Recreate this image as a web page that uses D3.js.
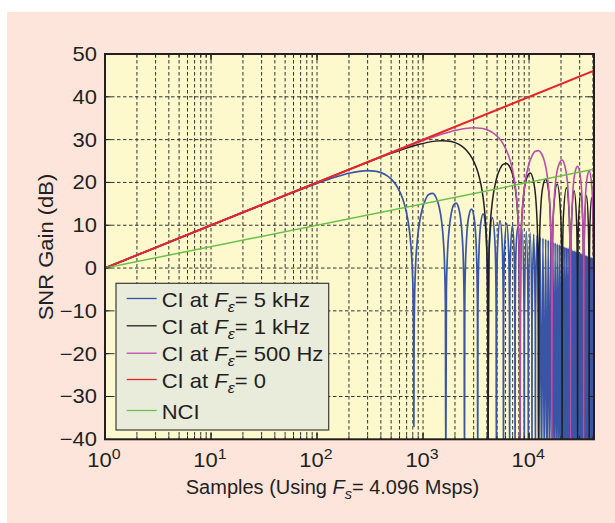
<!DOCTYPE html>
<html><head><meta charset="utf-8">
<script src="https://cdn.jsdelivr.net/npm/d3@7"></script>
<style>html,body{margin:0;padding:0;background:#fff;} svg{display:block;}</style>
</head><body>
<svg id="chart" width="615" height="523"></svg>
<script>
// ---------------- DATA ----------------
const xTickExponents = [0, 1, 2, 3, 4];
const yTickValues = [-40, -30, -20, -10, 0, 10, 20, 30, 40, 50];
const sampleDomain = [1, 40960];
const gainDomain = [-40, 50];
const xAxisLabel = ["Samples (Using ", "F", "s", "= 4.096 Msps)"];
const yAxisLabel = "SNR Gain (dB)";
const legendLabels = [
  ["CI at ", "F", "ε", "= 5 kHz"],
  ["CI at ", "F", "ε", "= 1 kHz"],
  ["CI at ", "F", "ε", "= 500 Hz"],
  ["CI at ", "F", "ε", "= 0"],
  ["NCI"]
];

// [samples, SNR gain dB]
const ciZero = [[1, 0], [40960, 46.1]];
const nci = [[1, 0], [40960, 23.1]];

const ci500Hz = [[1,0],[10,10],[100,20],[500,26.94],[1000,29.79],[1500,31.27],[2000,32.14],[2500,32.60],[3000,32.76],[3500,32.66],[4000,32.30],[4600,31.54],[5200,30.36],[5800,28.68],[6400,26.31],[6800,24.15],[7200,21.14],[7500,17.96],[7700,14.92],[7900,10.31],[8000,6.62],[8080,1.89],[8140,-4.81],[8180,-17.8],[8192,-48],
[8356,5.06],[8602,12.86],[9011,18.57],[9830,23.77],[10650,26.21],[11469,27.28],[12288,27.42],[13107,26.70],[13926,25.04],[14746,22.01],[15565,16.20],[15974,10.18],[16220,2.18],[16384,-48],
[16548,2.09],[16794,9.96],[17613,19.00],[18842,23.73],[20480,25.21],[22118,23.03],[23347,17.78],[24166,8.38],[24412,0.40],[24576,-48],
[24822,3.84],[25805,17.34],[27034,22.16],[28672,23.75],[30310,21.66],[31539,16.47],[32522,2.67],[32768,-48],
[33014,2.60],[33997,16.15],[35226,21.01],[36864,22.65],[38502,20.62],[39731,15.47],[40714,1.69],[40960,-48]];

const ci1kHz = [[1,0],[10,10],[100,19.99],[300,24.69],[500,26.78],[700,28.03],[900,28.84],[1100,29.36],[1300,29.65],[1500,29.75],[1700,29.69],[2000,29.29],[2300,28.53],[2600,27.35],[2900,25.68],[3200,23.30],[3400,21.13],[3600,18.13],[3750,14.95],[3850,11.91],[3950,7.30],[4000,3.61],[4040,-1.12],[4070,-7.82],[4090,-20.8],[4096,-48],
[4178,2.05],[4301,9.85],[4506,15.56],[4915,20.76],[5325,23.20],[5734,24.28],[6144,24.42],[6554,23.70],[6963,22.03],[7373,19.00],[7782,13.19],[7987,7.17],[8110,-0.83],[8192,-48],
[8274,-0.92],[8397,6.95],[8806,15.99],[9421,20.72],[10240,22.20],[11059,20.02],[11674,14.77],[12083,5.37],[12206,-2.61],[12288,-48],
[12411,0.83],[12902,14.33],[13517,19.15],[14336,20.74],[15155,18.65],[15770,13.46],[16261,-0.34],[16384,-48],
[16507,-0.41],[16998,13.14],[18432,19.65],[19866,12.46],[20357,-1.32],[20480,-48],
[20603,-1.37],[21094,12.20],[22528,18.78],[23962,11.64],[24453,-2.11],[24576,-48],
[24699,-2.16],[25190,11.43],[26624,18.05],[28058,10.96],[28549,-2.79],[28672,-48],
[28795,-2.82],[29286,10.77],[30720,17.43],[32154,10.37],[32645,-3.37],[32768,-48],
[32891,-3.40],[33382,10.21],[34816,16.89],[36250,9.85],[36741,-3.88],[36864,-48],
[36987,-3.91],[37478,9.70],[38912,16.40],[40346,9.38],[40837,-4.34],[40960,-48]];

const ci5kHz = [[1,0],[5,6.99],[20,13.0],[50,16.94],[100,19.79],[150,21.27],[200,22.14],[250,22.60],[300,22.76],[350,22.66],[400,22.30],[460,21.54],[520,20.36],[580,18.68],[640,16.31],[680,14.15],[720,11.14],[750,7.96],[770,4.92],[790,0.31],[800,-3.38],[808,-8.11],[814,-14.81],[818,-27.8],[819,-37],[821,-24.0],[825,-13.9],
[830,-8.5],[850,0.46],[880,6.17],[920,10.22],[980,13.66],[1050,15.89],[1130,17.16],[1229,17.43],[1330,16.42],[1420,14.23],[1500,10.70],[1560,5.87],[1600,-0.38],[1625,-9.56],[1638,-48],
[1660,-5.5],[1700,3.4],[1760,8.9],[1850,12.9],[1950,14.8],[2048,15.2],[2150,14.3],[2250,11.9],[2340,7.4],[2400,1.3],[2440,-9.0],[2458,-48],
[2474,-9.64],[2498,-1.76],[2580,7.35],[2703,12.17],[2867,13.76],[3031,11.67],[3154,6.48],[3236,-2.88],[3260,-10.84],[3277,-48],
[3292,-10.88],[3342,1.0],[3482,9.9],[3686,12.66],[3891,9.42],[4030,0.19],[4080,-11.82],[4096,-48],
[4121,-8.35],[4219,5.22],[4506,11.79],[4792,4.66],[4890,-9.09],[4915,-48],
[4940,-9.14],[5038,4.45],[5325,11.07],[5612,3.98],[5710,-9.77],[5734,-48],
[5759,-9.80],[5857,3.79],[6144,10.45],[6431,3.39],[6529,-10.35],[6554,-48],
[6578,-10.38],[6676,3.22],[6963,9.90],[7250,2.87],[7348,-10.86],[7373,-48],
[7397,-10.89],[7496,2.72],[7782,9.42],[8069,2.40],[8167,-11.32],[8192,-48],
[8217,-11.35],[8602,8.98],[8987,-11.74],[9011,-48],
[9036,-11.76],[9421,8.59],[9806,-12.11],[9830,-48],
[9855,-12.14],[10240,8.23],[10625,-12.46],[10650,-48],
[10674,-12.48],[11059,7.89],[11444,-12.79],[11469,-48],
[11494,-12.80],[11878,7.58],[12263,-13.09],[12288,-48],
[12698,7.29],[13107,-48],[13517,7.02],[13926,-48],[14336,6.77],[14746,-48],[15155,6.52],[15565,-48],[15974,6.30],[16384,-48],
[16794,6.08],[17203,-48],[17613,5.87],[18022,-48],[18432,5.67],[18842,-48],[19251,5.49],[19661,-48],[20070,5.30],[20480,-48],
[20890,5.13],[21299,-48],[21709,4.96],[22118,-48],[22528,4.80],[22938,-48],[23347,4.65],[23757,-48],[24166,4.50],[24576,-48],
[24986,4.35],[25395,-48],[25805,4.21],[26214,-48],[26624,4.08],[27034,-48],[27443,3.95],[27853,-48],[28262,3.82],[28672,-48],
[29082,3.69],[29491,-48],[29901,3.57],[30310,-48],[30720,3.46],[31130,-48],[31539,3.34],[31949,-48],[32358,3.23],[32768,-48],
[33178,3.12],[33587,-48],[33997,3.02],[34406,-48],[34816,2.91],[35226,-48],[35635,2.81],[36045,-48],[36454,2.71],[36864,-48],
[37274,2.62],[37683,-48],[38093,2.52],[38502,-48],[38912,2.43],[39322,-48],[39731,2.34],[40141,-48],[40550,2.25],[40960,-48]];

// ---------------- STYLE / LAYOUT ----------------
const W = 615, H = 523;
const plot = {left: 105, right: 594, top: 54, bottom: 439.3};
const FONT = "'Liberation Sans', Arial, Helvetica, sans-serif";
const FS = 20, SX = 1.1;
const TEXT_COLOR = "#231f20";
const seriesStyle = [
  {data: ci5kHz, color: "#3a55a6", width: 1.7},
  {data: ci1kHz, color: "#231f20", width: 1.5},
  {data: ci500Hz, color: "#b94fa9", width: 1.6},
  {data: ciZero, color: "#e5252c", width: 2},
  {data: nci, color: "#6bbf4a", width: 1.5}
];

const svg = d3.select("#chart");
svg.append("rect").attr("width", W).attr("height", H).attr("fill", "#ffffff");
svg.append("rect").attr("x", 7).attr("y", 12).attr("width", W - 7).attr("height", H - 12).attr("fill", "#fde5dc");

const x = d3.scaleLog().domain(sampleDomain).range([plot.left, plot.right]);
const y = d3.scaleLinear().domain(gainDomain).range([plot.bottom, plot.top]);

svg.append("rect").attr("x", plot.left).attr("y", plot.top)
  .attr("width", plot.right - plot.left).attr("height", plot.bottom - plot.top).attr("fill", "#fef9cc");

// grid
const minorX = [];
for (let d = 0; d <= 4; d++) for (let m = 1; m <= 9; m++) {
  const v = m * Math.pow(10, d);
  if (v > 1 && v < sampleDomain[1]) minorX.push(v);
}
const grid = svg.append("g").attr("stroke", "#333").attr("stroke-width", 1).attr("stroke-dasharray", "3.5,2.5");
grid.selectAll("line.v").data(minorX).join("line").attr("class", "v")
  .attr("x1", d => x(d)).attr("x2", d => x(d)).attr("y1", plot.top).attr("y2", plot.bottom);
grid.selectAll("line.h").data(yTickValues.filter(v => v > gainDomain[0] && v < gainDomain[1])).join("line").attr("class", "h")
  .attr("x1", plot.left).attr("x2", plot.right).attr("y1", d => y(d)).attr("y2", d => y(d));

// curves
svg.append("clipPath").attr("id", "clip").append("rect")
  .attr("x", plot.left).attr("y", plot.top).attr("width", plot.right - plot.left).attr("height", plot.bottom - plot.top);
const line = d3.line().x(d => x(d[0])).y(d => y(d[1])).curve(d3.curveMonotoneX);
const curves = svg.append("g").attr("clip-path", "url(#clip)");
seriesStyle.forEach(s => {
  curves.append("path").datum(s.data).attr("d", line).attr("fill", "none")
    .attr("stroke", s.color).attr("stroke-width", s.width).attr("stroke-linejoin", "round");
});

// ticks (inside, both sides)
const ticks = svg.append("g").attr("stroke", "#231f20").attr("stroke-width", 1);
const majorX = xTickExponents.map(e => Math.pow(10, e));
minorX.concat(majorX).forEach(v => {
  const len = majorX.includes(v) ? 6 : 3.5;
  ticks.append("line").attr("x1", x(v)).attr("x2", x(v)).attr("y1", plot.bottom).attr("y2", plot.bottom - len);
  ticks.append("line").attr("x1", x(v)).attr("x2", x(v)).attr("y1", plot.top).attr("y2", plot.top + len);
});
yTickValues.forEach(v => {
  ticks.append("line").attr("x1", plot.left).attr("x2", plot.left + 6).attr("y1", y(v)).attr("y2", y(v));
  ticks.append("line").attr("x1", plot.right).attr("x2", plot.right - 6).attr("y1", y(v)).attr("y2", y(v));
});

svg.append("rect").attr("x", plot.left).attr("y", plot.top)
  .attr("width", plot.right - plot.left).attr("height", plot.bottom - plot.top)
  .attr("fill", "none").attr("stroke", "#231f20").attr("stroke-width", 2);

// text helper
function addText(parent, tx, ty, parts, anchor, rotate, fs, sx) {
  const t = parent.append("text")
    .attr("transform", `translate(${tx},${ty})` + (rotate ? ` rotate(${rotate})` : "") + ` scale(${sx || SX},1)`)
    .attr("text-anchor", anchor || "start")
    .style("font-family", FONT).style("font-size", (fs || FS) + "px").attr("fill", TEXT_COLOR);
  parts.forEach(p => {
    const s = t.append("tspan").text(p.t);
    if (p.i) s.style("font-style", "italic");
    if (p.dy) s.attr("dy", p.dy);
    if (p.size) s.style("font-size", p.size + "px");
  });
  return t;
}

// y tick labels
yTickValues.forEach(v => {
  const lbl = (v < 0 ? "\u2212" : "") + Math.abs(v);
  addText(svg, 97, y(v) + 7, [{t: lbl}], "end");
});
// x tick labels
xTickExponents.forEach(e => {
  addText(svg, x(Math.pow(10, e)) - 1, 467, [{t: "10"}, {t: String(e), dy: -8.5, size: 14.5}], "middle");
});
// axis titles
addText(svg, 332.5, 494, [
  {t: xAxisLabel[0]}, {t: xAxisLabel[1], i: true}, {t: xAxisLabel[2], i: true, dy: 5, size: 14.5}, {t: xAxisLabel[3], dy: -5}
], "middle", 0, 20, 1.0);
addText(svg, 53, 247, [{t: yAxisLabel}], "middle", -90);

// legend
const legendBox = {x: 116, y: 283.3, w: 212.7, h: 146.7};
const legendRows = [298.5, 325.8, 353.2, 379.5, 410.5];
const lg = svg.append("g");
lg.append("rect").attr("x", legendBox.x).attr("y", legendBox.y).attr("width", legendBox.w).attr("height", legendBox.h)
  .attr("fill", "#e9ebdb").attr("stroke", "#3a3a3a").attr("stroke-width", 1.2);
legendLabels.forEach((lab, i) => {
  const ly = legendRows[i];
  lg.append("line").attr("x1", 126.7).attr("x2", 156.7).attr("y1", ly).attr("y2", ly)
    .attr("stroke", seriesStyle[i].color).attr("stroke-width", 1.3);
  let parts;
  if (lab.length === 4) {
    parts = [{t: lab[0]}, {t: lab[1], i: true}, {t: lab[2], i: true, dy: 5, size: 14.5}, {t: lab[3], dy: -5}];
  } else parts = [{t: lab[0]}];
  addText(lg, 161.7, ly + 8, parts, "start");
});
</script>
</body></html>
